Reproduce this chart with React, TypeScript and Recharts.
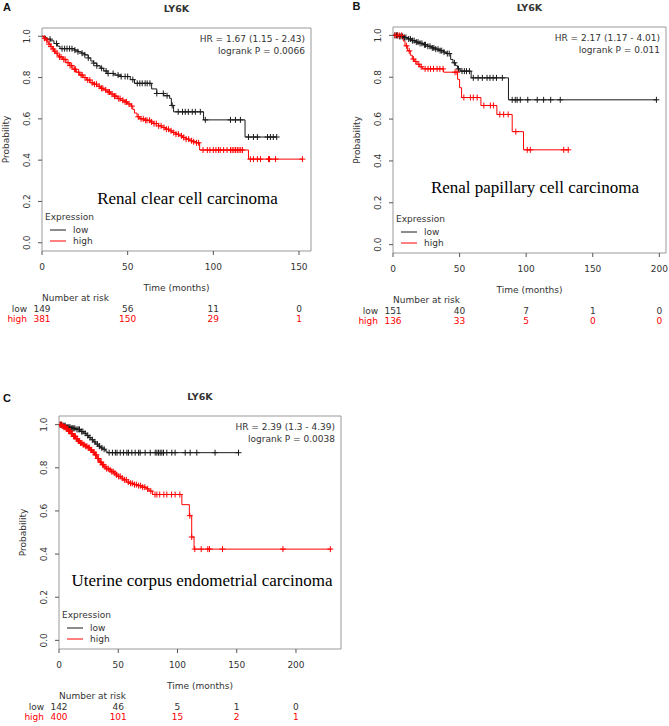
import React from 'react';
import { ComposedChart, Line, Scatter, XAxis, YAxis, ReferenceArea } from 'recharts';

type Step = [number, number];

// A: Renal clear cell carcinoma
const kircTicks = [0, 50, 100, 150];
const kircLow: Step[] = [
  [0, 1], [2, 0.993], [3, 0.986], [5, 0.978], [7, 0.965], [9, 0.952], [10.5, 0.94], [19, 0.933],
  [21, 0.925], [23, 0.918], [25, 0.91], [27, 0.895], [28.5, 0.88], [30, 0.87], [32, 0.857], [34, 0.845],
  [36, 0.832], [38, 0.82], [42, 0.812], [46, 0.805], [51.5, 0.79], [54, 0.772], [64, 0.745], [67, 0.723],
  [71, 0.712], [74.5, 0.699], [75.5, 0.665], [76.8, 0.634], [94.3, 0.595], [118.5, 0.512], [137, 0.512],
];
const kircHigh: Step[] = [
  [0, 1], [1, 0.99], [2, 0.982], [3, 0.972], [4, 0.962], [5, 0.95], [6, 0.938], [7, 0.928], [8, 0.918],
  [9, 0.908], [10, 0.9], [12, 0.888], [14, 0.872], [16, 0.858], [18, 0.84], [20, 0.826], [22, 0.812],
  [24, 0.8], [26, 0.788], [28, 0.775], [30, 0.768], [32, 0.758], [34, 0.748], [36, 0.74], [38, 0.73],
  [40, 0.72], [42, 0.71], [44, 0.698], [46, 0.69], [48, 0.682], [50, 0.672], [52, 0.662], [53, 0.645],
  [54, 0.628], [55.5, 0.61], [57, 0.6], [60, 0.593], [63, 0.585], [65, 0.577], [68, 0.566], [70, 0.558],
  [72, 0.55], [74, 0.542], [76, 0.534], [78, 0.526], [80, 0.518], [82, 0.51], [84, 0.502], [86, 0.494],
  [88, 0.489], [90, 0.484], [92, 0.449], [120.5, 0.405], [152, 0.405],
];
const kircLowCensor = [
  4.7, 8.5, 11.7, 13.2, 14.6, 16.1, 17.5, 19.2, 21, 23.4, 25, 27, 30.2, 32, 34.8, 37.4, 38.6, 41.5, 44.4,
  46.2, 48.5, 50, 53, 55.6, 57.1, 58.5, 60.2, 61.4, 63, 67, 70.8, 73, 76, 79.5, 82, 83.6, 85.4, 87.7, 89.5,
  92.4, 95.3, 110, 112.9, 115.8, 120.5, 123.4, 125.7, 131.6, 133.3, 135, 137,
];
const kircHighCensor = [
  1.5, 2.8, 4.1, 5.3, 6.6, 7.4, 8.8, 10.2, 11.1, 12.7, 13.5, 15.2, 16.4, 17.3, 18.9, 19.6, 21.4, 22.8, 23.5,
  25.1, 26.7, 27.9, 29.3, 30.6, 31.8, 33.4, 34.7, 35.5, 37.2, 38.6, 39.4, 40.9, 42.3, 43.1, 44.8, 45.6, 47.2,
  48.5, 49.3, 50.8, 52.4, 56.2, 57.8, 59.1, 60.5, 61.3, 62.8, 63.9, 65.4, 66.7, 68.1, 69.5, 71.2, 72.6, 73.8,
  75.3, 76.9, 78.2, 79.6, 81.4, 82.7, 84.1, 85.6, 87.3, 88.5, 90.2, 91.4, 94, 96.5, 98, 100, 101.5, 103, 104,
  106, 108, 110, 111, 112, 113, 114, 115, 116, 117, 121.6, 123.4, 125.7, 127.5, 132.2, 132.8, 136.3, 152,
];
const kircRiskLow = [149, 56, 11, 0];
const kircRiskHigh = [381, 150, 29, 1];

// B: Renal papillary cell carcinoma
const kirpTicks = [0, 50, 100, 150, 200];
const kirpLow: Step[] = [
  [0, 1], [4, 0.995], [8, 0.99], [11, 0.983], [14, 0.975], [17, 0.968], [20, 0.962], [23, 0.955],
  [26, 0.948], [29, 0.94], [32, 0.934], [35, 0.927], [38, 0.92], [40, 0.913], [43.3, 0.885], [45, 0.869],
  [47, 0.855], [48.5, 0.84], [50.4, 0.829], [58.7, 0.797], [86.7, 0.692], [198, 0.692],
];
const kirpHigh: Step[] = [
  [0, 1], [7.8, 0.973], [9, 0.95], [11, 0.926], [13, 0.905], [14.5, 0.887], [16, 0.875], [18, 0.862],
  [20, 0.85], [22, 0.84], [38, 0.824], [48.5, 0.79], [50, 0.75], [51.5, 0.703], [66, 0.665], [78, 0.622],
  [89.5, 0.54], [98, 0.453], [132, 0.453],
];
const kirpLowCensor = [
  1.4, 2.6, 3.3, 4.8, 5.9, 7.2, 8.6, 9.7, 11.8, 13.1, 14.6, 15.9, 17.5, 18.8, 20.3, 21.7, 23.6, 24.4, 26.2,
  27.8, 29.5, 30.7, 32.1, 33.8, 35.4, 36.6, 38.3, 40.8, 42.2, 46.1, 49.2, 51.8, 53.6, 55.2, 57.4, 60.3, 63.9,
  67.1, 70.6, 72.8, 75.2, 77.7, 82.1, 89.5, 91.8, 93.2, 95.6, 101.2, 108.3, 113.1, 118.4, 125.6, 197.8,
];
const kirpHighCensor = [
  1.5, 3.2, 4.6, 6.5, 10.1, 12.2, 15.3, 17.1, 19.4, 21.2, 24.1, 26.3, 28.2, 30.4, 33.1, 35.2, 37.6, 46.6,
  48.1, 53.2, 58.1, 60.3, 63.2, 68.2, 73.1, 75.4, 80.2, 83.1, 86.5, 92.2, 100.8, 103.1, 128.2, 131.6,
];
const kirpRiskLow = [151, 40, 7, 1, 0];
const kirpRiskHigh = [136, 33, 5, 0, 0];

// C: Uterine corpus endometrial carcinoma
const ucecTicks = [0, 50, 100, 150, 200];
const ucecLow: Step[] = [
  [0, 1], [3, 0.995], [6, 0.988], [10, 0.983], [14, 0.978], [18, 0.968], [21, 0.96], [23, 0.95], [25, 0.94],
  [27, 0.93], [29, 0.92], [31, 0.91], [33, 0.9], [35, 0.892], [37, 0.886], [39, 0.878], [40.5, 0.87],
  [151.5, 0.87],
];
const ucecHigh: Step[] = [
  [0, 1], [2, 0.995], [4, 0.988], [6, 0.981], [8, 0.97], [10, 0.958], [12, 0.946], [14, 0.934], [16, 0.924],
  [18, 0.915], [20, 0.907], [22, 0.9], [24, 0.893], [26, 0.883], [28, 0.872], [30, 0.86], [32, 0.843],
  [34, 0.826], [36, 0.814], [38, 0.804], [40, 0.796], [42, 0.79], [44, 0.782], [46, 0.775], [48, 0.767],
  [50, 0.76], [52, 0.752], [54, 0.744], [57, 0.734], [60, 0.728], [63, 0.722], [66, 0.717], [70, 0.71],
  [74, 0.702], [76, 0.692], [79, 0.676], [103.7, 0.629], [110, 0.578], [112, 0.479], [114, 0.423], [230, 0.423],
];
const ucecLowCensor = [
  1.2, 2.1, 3.4, 4.3, 5.2, 6.6, 7.5, 8.4, 9.3, 10.7, 11.6, 12.5, 13.4, 15.1, 16.2, 17.3, 19.1, 20.2, 22.1,
  24.2, 26.1, 28.2, 30.3, 32.4, 34.1, 36.2, 38.1, 42.3, 45.1, 47.6, 49, 51.7, 54.5, 57.3, 58.7, 61.5, 64.3,
  67.2, 68.5, 72.7, 77, 81.2, 82.6, 84, 85.4, 86.8, 88.2, 91, 95.2, 98, 106.5, 110.7, 116.3, 131.7, 151.5,
];
const ucecHighCensor = [
  0.8, 1.6, 2.5, 3.2, 4.1, 4.9, 5.6, 6.4, 7.3, 8.1, 8.9, 9.6, 10.5, 11.3, 12.2, 13.1, 13.8, 14.7, 15.5, 16.4,
  17.2, 18.1, 19.3, 20.4, 21.2, 22.6, 23.5, 24.7, 25.6, 26.8, 27.5, 28.9, 29.6, 30.8, 31.5, 32.7, 33.4, 34.9,
  35.6, 36.8, 37.7, 38.9, 40.2, 41.6, 43.1, 44.5, 45.8, 47.2, 48.6, 50.3, 51.7, 53.4, 55.2, 56.8, 58.5, 60.4,
  61.9, 63.7, 65.3, 67.2, 68.9, 70.6, 72.4, 74.8, 77.5, 81, 82.6, 85, 88.5, 91, 95, 98, 102, 110.4, 112,
  114.6, 120, 125.6, 127, 138, 189, 229,
];
const ucecRiskLow = [142, 46, 5, 1, 0];
const ucecRiskHigh = [400, 101, 15, 2, 1];

const FONT = '"DejaVu Sans", sans-serif';
const LOW = '#1a1a1a';
const HIGH = '#ff0000';
const yTicks = [0, 0.2, 0.4, 0.6, 0.8, 1];

const survAt = (steps: Step[], t: number) => {
  let s = steps[0][1];
  for (const [x, y] of steps) if (x <= t) s = y;
  return s;
};
const rows = (steps: Step[]) => steps.map(([t, s]) => ({ t, s }));
const marks = (steps: Step[], times: number[]) => times.map((t) => ({ t, s: survAt(steps, t) }));

const plus = (color: string) => (props: any) => {
  const { cx, cy } = props;
  return <path d={`M${cx - 3},${cy}H${cx + 3}M${cx},${cy - 3}V${cy + 3}`} stroke={color} strokeWidth={1} fill="none" />;
};

type PanelProps = {
  letter: string;
  hr: string;
  p: string;
  note: string;
  ticks: number[];
  xMax: number;
  low: Step[];
  high: Step[];
  lowCensor: number[];
  highCensor: number[];
  riskLow: number[];
  riskHigh: number[];
  // layout
  x: number; y: number; w: number; h: number;
  pl: number; pt: number; pr: number; pb: number;
  letterPos: [number, number];
  notePos: [number, number];
};

const KMPanel = (c: PanelProps) => {
  const yAxisW = 40;
  const xAxisH = 76;
  const cx = (c.pl + c.pr) / 2;

  const xTick = (props: any) => {
    const { x, y, payload } = props;
    const i = c.ticks.indexOf(payload.value);
    return (
      <g fontFamily={FONT} fontSize={9}>
        <text x={x} y={y + 12} textAnchor="middle" dominantBaseline="central" fill="#333">{payload.value}</text>
        {i === 0 && (
          <>
            <text x={x} y={y + 43} dominantBaseline="central" fill="#333">Number at risk</text>
            <text x={x - 15} y={y + 54} textAnchor="end" dominantBaseline="central" fill="#333">low</text>
            <text x={x - 15} y={y + 64} textAnchor="end" dominantBaseline="central" fill={HIGH}>high</text>
          </>
        )}
        <text x={x} y={y + 54} textAnchor="middle" dominantBaseline="central" fill="#333">{c.riskLow[i]}</text>
        <text x={x} y={y + 64} textAnchor="middle" dominantBaseline="central" fill={HIGH}>{c.riskHigh[i]}</text>
      </g>
    );
  };

  const yTick = (props: any) => {
    const { x, y, payload } = props;
    const tx = x - 11;
    return (
      <text x={tx} y={y} transform={`rotate(-90 ${tx} ${y})`} textAnchor="middle" dominantBaseline="central"
        fontFamily={FONT} fontSize={9} fill="#333">
        {Number(payload.value).toFixed(1)}
      </text>
    );
  };

  return (
    <div style={{ position: 'absolute', left: c.x, top: c.y, width: c.w, height: c.h }}>
      <ComposedChart
        width={c.w}
        height={c.h}
        margin={{ top: c.pt, left: c.pl - yAxisW, right: c.w - c.pr, bottom: c.h - c.pb - xAxisH }}
      >
        <XAxis type="number" dataKey="t" domain={[0, c.xMax]} ticks={c.ticks} interval={0} allowDataOverflow
          axisLine={false} tickSize={4} tickMargin={0} height={xAxisH} tickLine={{ stroke: '#555' }} tick={xTick} />
        <YAxis type="number" dataKey="s" domain={[-0.04, 1.04]} ticks={yTicks} interval={0} allowDataOverflow
          axisLine={false} tickSize={4} tickMargin={0} width={yAxisW} tickLine={{ stroke: '#555' }} tick={yTick} />
        <ReferenceArea x1={0} x2={c.xMax} y1={-0.04} y2={1.04} fill="none" fillOpacity={0} stroke="#999" strokeWidth={1} />
        <Line data={rows(c.low)} dataKey="s" type="stepAfter" stroke={LOW} strokeWidth={1} dot={false} activeDot={false} isAnimationActive={false} />
        <Line data={rows(c.high)} dataKey="s" type="stepAfter" stroke={HIGH} strokeWidth={1} dot={false} activeDot={false} isAnimationActive={false} />
        <Scatter data={marks(c.low, c.lowCensor)} dataKey="s" shape={plus(LOW)} isAnimationActive={false} />
        <Scatter data={marks(c.high, c.highCensor)} dataKey="s" shape={plus(HIGH)} isAnimationActive={false} />
      </ComposedChart>
      <svg width={c.w} height={c.h} style={{ position: 'absolute', left: 0, top: 0, pointerEvents: 'none' }}
        fontFamily={FONT} fontSize={9}>
        <text x={c.letterPos[0]} y={c.letterPos[1]} textAnchor="middle" dominantBaseline="central"
          fontFamily='"Liberation Sans", Arial, sans-serif' fontWeight="bold" fontSize={11} fill="#111">{c.letter}</text>
        <text x={cx} y={c.pt - 19.5} textAnchor="middle" dominantBaseline="central" fontWeight="bold" fontSize={9.5} fill="#333">LY6K</text>
        <text x={c.pr - 6} y={c.pt + 11} textAnchor="end" dominantBaseline="central" fill="#333">{c.hr}</text>
        <text x={c.pr - 6} y={c.pt + 23} textAnchor="end" dominantBaseline="central" fill="#333">{c.p}</text>
        <text x={c.notePos[0]} y={c.notePos[1]} textAnchor="middle" dominantBaseline="central"
          fontFamily='"Liberation Serif", "Times New Roman", serif' fontSize={17} fill="#000">{c.note}</text>
        <text x={c.pl + 3} y={c.pb - 34} dominantBaseline="central" fill="#333">Expression</text>
        <line x1={c.pl + 8} x2={c.pl + 24} y1={c.pb - 21} y2={c.pb - 21} stroke={LOW} strokeWidth={1} />
        <text x={c.pl + 31} y={c.pb - 21} dominantBaseline="central" fill="#333">low</text>
        <line x1={c.pl + 8} x2={c.pl + 24} y1={c.pb - 10} y2={c.pb - 10} stroke={HIGH} strokeWidth={1} />
        <text x={c.pl + 31} y={c.pb - 10} dominantBaseline="central" fill="#333">high</text>
        <text x={c.pl - 36} y={(c.pt + c.pb) / 2} transform={`rotate(-90 ${c.pl - 36} ${(c.pt + c.pb) / 2})`}
          textAnchor="middle" dominantBaseline="central" fill="#333">Probability</text>
        <text x={cx} y={c.pb + 37} textAnchor="middle" dominantBaseline="central" fill="#333">Time (months)</text>
      </svg>
    </div>
  );
};

export default function App() {
  return (
    <div style={{ position: 'absolute', left: 0, top: 0, width: 669, height: 726, background: '#fff' }}>
      <KMPanel
        letter="A" hr="HR = 1.67 (1.15 - 2.43)" p="logrank P = 0.0066" note="Renal clear cell carcinoma"
        ticks={kircTicks} xMax={157} low={kircLow} high={kircHigh}
        lowCensor={kircLowCensor} highCensor={kircHighCensor} riskLow={kircRiskLow} riskHigh={kircRiskHigh}
        x={0} y={0} w={330} h={330} pl={42} pt={28} pr={311} pb={251}
        letterPos={[7, 7]} notePos={[187.5, 198]}
      />
      <KMPanel
        letter="B" hr="HR = 2.17 (1.17 - 4.01)" p="logrank P = 0.011" note="Renal papillary cell carcinoma"
        ticks={kirpTicks} xMax={205} low={kirpLow} high={kirpHigh}
        lowCensor={kirpLowCensor} highCensor={kirpHighCensor} riskLow={kirpRiskLow} riskHigh={kirpRiskHigh}
        x={330} y={0} w={339} h={330} pl={63} pt={27} pr={336} pb={253}
        letterPos={[26.5, 6]} notePos={[205, 187]}
      />
      <KMPanel
        letter="C" hr="HR = 2.39 (1.3 - 4.39)" p="logrank P = 0.0038" note="Uterine corpus endometrial carcinoma"
        ticks={ucecTicks} xMax={238} low={ucecLow} high={ucecHigh}
        lowCensor={ucecLowCensor} highCensor={ucecHighCensor} riskLow={ucecRiskLow} riskHigh={ucecRiskHigh}
        x={0} y={370} w={350} h={356} pl={59} pt={46} pr={341} pb={279}
        letterPos={[7, 28]} notePos={[202, 210]}
      />
    </div>
  );
}
